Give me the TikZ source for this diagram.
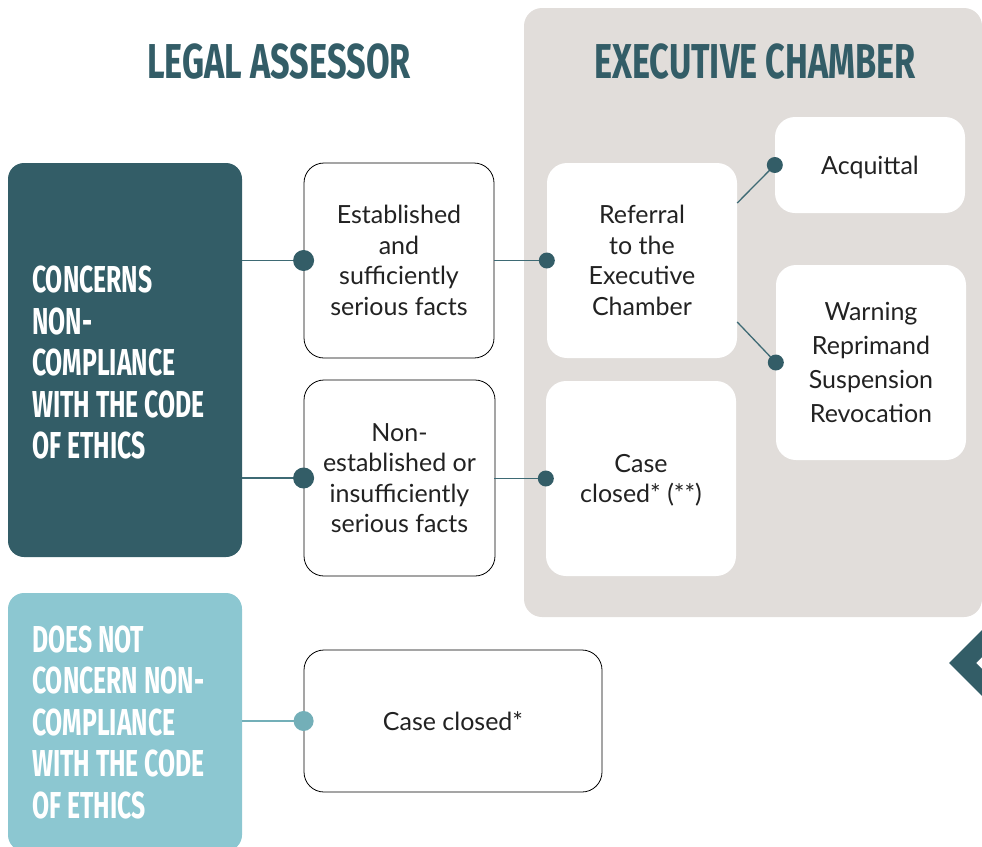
\documentclass[tikz,border=0pt]{standalone}
\usepackage{fontspec}
\setmainfont{Lato}
\newfontfamily\headfont{Fira Sans}[FakeStretch=0.70]
\newfontfamily\sidefont{Fira Sans}[FakeStretch=0.66]
\usetikzlibrary{calc}
\definecolor{teal}{HTML}{335D67}
\definecolor{lightteal}{HTML}{8CC7D1}
\definecolor{lightdot}{HTML}{73AFB8}
\definecolor{linecol}{HTML}{3E6A74}
\definecolor{panelgray}{HTML}{E1DDDA}
\definecolor{txt}{HTML}{222222}
\tikzset{
  headtext/.style={font=\headfont\bfseries\fontsize{49}{52}\selectfont, text=teal, inner sep=0pt},
  sidebox/.style={rounded corners=16pt, minimum width=234pt, inner sep=0pt},
  sidetext/.style={anchor=west, align=left, text=white, inner sep=0pt,
     font=\sidefont\bfseries\fontsize{37.5}{41.5}\selectfont},
  outbox/.style={draw=black, line width=0.8pt, rounded corners=20pt, fill=white, align=center,
     font=\fontsize{25}{30.5}\selectfont, text=txt, inner sep=4pt, text depth=0pt},
  whitebox/.style={fill=white, rounded corners=20pt, align=center,
     font=\fontsize{25}{30.5}\selectfont, text=txt, inner sep=4pt, text depth=0pt},
  conn/.style={draw=linecol, line width=1.3pt},
}
\begin{document}
\begin{tikzpicture}[x=1pt,y=-1pt]
\useasboundingbox (0,0) rectangle (982,846);
\clip (0,0) rectangle (982,846);
% panel
\fill[panelgray, rounded corners=18pt] (524,8) rectangle (982,617);
% headings
\node[headtext] (hlegal) at (279,62) {LEGAL ASSESSOR};
\node[headtext] (hexec) at (755,62) {EXECUTIVE CHAMBER};
% left boxes
\node[sidebox, fill=teal, minimum height=394pt] (concerns) at (125,360) {};
\node[sidetext] (concernstext) at (32,362.5)
  {CONCERNS\\NON-\\COMPLIANCE\\WITH THE CODE\\OF ETHICS};
\node[sidebox, fill=lightteal, minimum height=258pt] (notconcerns) at (125,722) {};
\node[sidetext] (notconcernstext) at (32,722)
  {DOES NOT\\CONCERN NON-\\COMPLIANCE\\WITH THE CODE\\OF ETHICS};
% middle boxes
\node[outbox, minimum width=190pt, minimum height=195pt] (est) at (399,260.5)
  {Established\\and\\sufficiently\\serious facts};
\node[outbox, minimum width=191pt, minimum height=196pt] (nonest) at (399.5,478)
  {Non-\\established or\\insufficiently\\serious facts};
\node[outbox, minimum width=298pt, minimum height=142pt] (closedlow) at (453,721)
  {Case closed*};
% chamber boxes
\node[whitebox, minimum width=190pt, minimum height=195pt] (referral) at (642,260.5)
  {Referral\\to the\\Executive\\Chamber};
\node[whitebox, minimum width=190pt, minimum height=195pt] (caseclosed) at (641,478.5)
  {Case\\closed* (**)};
\node[whitebox, minimum width=190pt, minimum height=96pt] (acquittal) at (870,165)
  {Acquittal};
\node[whitebox, minimum width=190pt, minimum height=195pt,
      font=\fontsize{25}{34}\selectfont] (warning) at (871,362.5)
  {Warning\\Reprimand\\Suspension\\Revocation};
% connectors
\draw[conn] (concerns.east |- est.west) -- (est.west);
\fill[teal] (est.west) circle (10.5pt);
\draw[conn] (concerns.east |- nonest.west) -- (nonest.west);
\fill[teal] (nonest.west) circle (10.5pt);
\draw[conn, draw=lightdot] (notconcerns.east |- closedlow.west) -- (closedlow.west);
\fill[lightdot] (closedlow.west) circle (10pt);
\draw[conn] (est.east) -- (referral.west);
\fill[teal] (referral.west) circle (8pt);
\draw[conn] (est.east |- caseclosed.west) -- (caseclosed.west);
\fill[teal] (caseclosed.west) circle (8pt);
\coordinate (rtop) at ($(referral.east)+(0,-57.5)$);
\coordinate (rbot) at ($(referral.east)+(0,61.5)$);
\draw[conn] (rtop) -- (acquittal.west);
\fill[teal] (acquittal.west) circle (8pt);
\draw[conn] (rbot) -- (warning.west);
\fill[teal] (warning.west) circle (8pt);
% chevron
\fill[teal] (990,622) -- (949,663) -- (990,704) -- (990,677) -- (976,663) -- (990,649) -- cycle;
\end{tikzpicture}
\end{document}
